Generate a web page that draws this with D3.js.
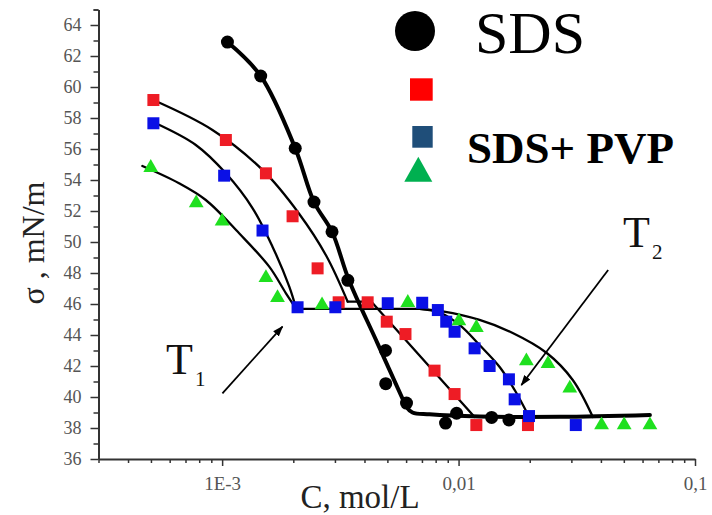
<!DOCTYPE html>
<html><head><meta charset="utf-8">
<script src="https://cdn.jsdelivr.net/npm/d3@7"></script>
<style>body{margin:0;background:#fff}</style>
</head><body><svg id="chart" width="712" height="515"></svg>
<script>
// ---------- data ----------
const xMajorTicks = [0.001, 0.01, 0.1];
const xTickLabels = ["1E-3", "0,01", "0,1"];
const yMajorTicks = [36,38,40,42,44,46,48,50,52,54,56,58,60,62,64];

// SDS (black circles)
const sdsC = [0.001053,0.001456,0.002038,0.002446,0.002916,0.003402,0.00491,0.00492,0.006023,0.008809,0.00981,0.0138,0.01633];
const sdsS = [62.9,60.71,56.05,52.58,50.66,47.53,43.0,40.86,39.61,38.32,38.95,38.68,38.52];
// SDS+PVP (red squares)
const redC = [0.000512,0.001037,0.001532,0.001986,0.002534,0.003111,0.004126,0.004969,0.005963,0.007914,0.00962,0.01189,0.01966];
const redS = [59.16,56.58,54.43,51.66,48.3,46.11,46.11,44.86,44.06,41.7,40.19,38.19,38.19];
// SDS+PVP (blue squares)
const blueC = [0.000512,0.00102,0.001482,0.002085,0.003012,0.005017,0.007018,0.008173,0.008868,0.00962,0.01169,0.01353,0.01633,0.01727,0.01986,0.03132];
const blueS = [57.66,54.28,50.74,45.79,45.79,46.05,46.08,45.61,44.86,44.21,43.14,42.0,41.14,39.85,38.77,38.19];
// SDS+PVP (green triangles)
const greenC = [0.000499,0.000777,0.001,0.001532,0.001715,0.002646,0.0061,0.01003,0.01189,0.01936,0.0239,0.02954,0.04025,0.05016,0.06447];
const greenS = [54.86,52.58,51.4,47.76,46.47,46.0,46.15,44.97,44.54,42.39,42.21,40.63,38.26,38.26,38.26];

// fitted curves, as segments of [C, sigma] pairs
const sdsFit = [
  [[0.001053,62.9],[0.001456,60.71],[0.002038,56.05],[0.002446,52.58],[0.002916,50.66],[0.003436,47.55],[0.004537,43.48],[0.006004,39.37]],
  [[0.006004,39.37],[0.006383,39.0],[0.007537,38.88],[0.01227,38.74],[0.02679,38.72],[0.06447,38.84]]
];
const redFit = [
  [[0.000512,59.16],[0.00091,57.23],[0.001482,54.65],[0.00212,51.81],[0.00276,49.1],[0.003396,46.15]],
  [[0.003396,46.15],[0.004279,46.15]],
  [[0.004279,46.15],[0.01169,38.71]]
];
const blueFit = [
  [[0.000524,57.66],[0.000774,56.26],[0.001037,54.43],[0.001344,52.19],[0.001633,49.7],[0.001923,47.12],[0.002059,45.68]],
  [[0.002059,45.68],[0.00684,45.68]],
  [[0.00684,45.68],[0.008308,45.45],[0.0101,44.65],[0.01227,43.35],[0.01492,41.94],[0.01727,40.45],[0.0198,38.77]]
];
const greenFit = [
  [[0.00046,54.9],[0.000657,53.79],[0.000853,52.71],[0.00118,50.56],[0.001582,48.41],[0.001862,46.69],[0.002059,45.68]],
  [[0.00684,45.68],[0.008554,45.52],[0.01227,44.97],[0.01694,44.13],[0.0236,42.84],[0.03041,41.1],[0.03697,38.71]]
];
// annotation arrows [start, end] in data units
const arrowT1 = [[0.001003,40.24],[0.0018,44.54]];
const arrowT2 = [[0.04292,48.19],[0.01844,40.77]];

// ---------- drawing ----------
const svg = d3.select("#chart");
const x = d3.scaleLog().domain([0.0003, 0.1]).range([98.5, 695]);
const y = d3.scaleLinear().domain([36, 65]).range([459, 9.5]);
const serif = "'Liberation Serif','Times New Roman',serif";
const axisCol = "#333";

// minor ticks
const xMinor = [];
[0.0001,0.001,0.01].forEach(b => { for (let k=2;k<=9;k++){ const v=b*k; if (v>=0.0003 && v<0.1) xMinor.push(v);} });
const yMinor = d3.range(37, 66, 2).concat([65]);

const gx = svg.append("g").attr("transform","translate(0,459)");
gx.append("g").call(d3.axisBottom(x).tickValues(xMinor).tickSize(4).tickSizeOuter(0).tickFormat(""))
  .call(g=>g.select(".domain").remove());
gx.append("g").call(d3.axisBottom(x).tickValues(xMajorTicks).tickSize(7).tickSizeOuter(0)
  .tickFormat((d,i)=>xTickLabels[i]));
gx.selectAll("line").attr("stroke",axisCol).attr("stroke-width",1.5);
gx.selectAll(".domain").attr("stroke",axisCol).attr("stroke-width",2);
gx.selectAll("text").attr("y",31).attr("dy",0).attr("font-family",serif).attr("font-size",19).attr("fill","#555");

const gy = svg.append("g").attr("transform","translate(98.5,0)");
gy.append("g").call(d3.axisLeft(y).tickValues(yMinor).tickSize(5).tickSizeOuter(0).tickFormat(""))
  .call(g=>g.select(".domain").remove());
gy.append("g").call(d3.axisLeft(y).tickValues(yMajorTicks).tickSize(8).tickSizeOuter(0).tickPadding(9));
gy.selectAll("line").attr("stroke",axisCol).attr("stroke-width",1.5);
gy.selectAll(".domain").attr("stroke",axisCol).attr("stroke-width",2);
gy.selectAll("text").attr("font-family",serif).attr("font-size",18).attr("fill","#555");

// axis titles
svg.append("text").attr("x",360).attr("y",508).attr("text-anchor","middle")
  .attr("font-family",serif).attr("font-size",33).attr("fill","#222").text("C, mol/L");
svg.append("text").attr("transform","translate(44,243) rotate(-90)").attr("text-anchor","middle")
  .attr("font-family",serif).attr("font-size",32).attr("fill","#222").text("σ , mN/m");

// fit lines
const line = d3.line().x(d=>x(d[0])).y(d=>y(d[1])).curve(d3.curveCatmullRom.alpha(0.5));
function drawFit(segs, w){
  segs.forEach(s => svg.append("path").attr("d", line(s)).attr("fill","none")
    .attr("stroke","#000").attr("stroke-width",w).attr("stroke-linejoin","round").attr("stroke-linecap","round"));
}
drawFit(redFit, 2.3);
drawFit(blueFit, 2.3);
drawFit(greenFit, 2.3);
drawFit(sdsFit, 4);

// markers
const redPts = d3.zip(redC, redS), bluePts = d3.zip(blueC, blueS), greenPts = d3.zip(greenC, greenS), sdsPts = d3.zip(sdsC, sdsS);
const sq = 12;
svg.append("g").selectAll("rect").data(redPts).join("rect")
  .attr("x",d=>x(d[0])-sq/2).attr("y",d=>y(d[1])-sq/2).attr("width",sq).attr("height",sq).attr("fill","#ee1c25");
svg.append("g").selectAll("rect").data(bluePts).join("rect")
  .attr("x",d=>x(d[0])-sq/2).attr("y",d=>y(d[1])-sq/2).attr("width",sq).attr("height",sq).attr("fill","#0a10e6");
const tri = d3.symbol().type(d3.symbolTriangle).size(95);
svg.append("g").selectAll("path").data(greenPts).join("path")
  .attr("transform",d=>`translate(${x(d[0])},${y(d[1])+1})`).attr("d",tri).attr("fill","#1fe01f");
svg.append("g").selectAll("circle").data(sdsPts).join("circle")
  .attr("cx",d=>x(d[0])).attr("cy",d=>y(d[1])).attr("r",6.5).attr("fill","#000");

// arrows
const defs = svg.append("defs");
defs.append("marker").attr("id","ah").attr("viewBox","0 0 10 10").attr("refX",9).attr("refY",5)
  .attr("markerWidth",6).attr("markerHeight",6).attr("orient","auto-start-reverse")
  .append("path").attr("d","M0,1.5 L10,5 L0,8.5 Z").attr("fill","#000");
[arrowT1, arrowT2].forEach(a => svg.append("line")
  .attr("x1",x(a[0][0])).attr("y1",y(a[0][1])).attr("x2",x(a[1][0])).attr("y2",y(a[1][1]))
  .attr("stroke","#000").attr("stroke-width",1.8).attr("marker-end","url(#ah)"));

// T labels
function tLabel(px, py, sub){
  const t = svg.append("text").attr("x",px).attr("y",py).attr("font-family",serif).attr("fill","#111");
  t.append("tspan").attr("font-size",44).text("T");
  t.append("tspan").attr("font-size",21).attr("dx",2).attr("dy",12).text(sub);
}
tLabel(166, 373.5, "1");
tLabel(623, 246.5, "2");

// legend
const lg = svg.append("g");
lg.append("circle").attr("cx",415).attr("cy",31).attr("r",20).attr("fill","#000");
lg.append("rect").attr("x",410).attr("y",78.3).attr("width",22.7).attr("height",22.4).attr("fill","#ff0000");
lg.append("rect").attr("x",412.3).attr("y",126).attr("width",20.4).attr("height",21.7).attr("fill","#1f4e79");
lg.append("path").attr("d","M404.3,181.7 L432.3,181.7 L418.3,156.7 Z").attr("fill","#00b050");
lg.append("text").attr("x",475).attr("y",53).attr("font-family",serif).attr("font-size",60).attr("fill","#000").text("SDS");
lg.append("text").attr("x",467).attr("y",163).attr("font-family",serif).attr("font-weight","bold")
  .attr("font-size",45).attr("fill","#000").text("SDS+ PVP");
</script></body></html>
